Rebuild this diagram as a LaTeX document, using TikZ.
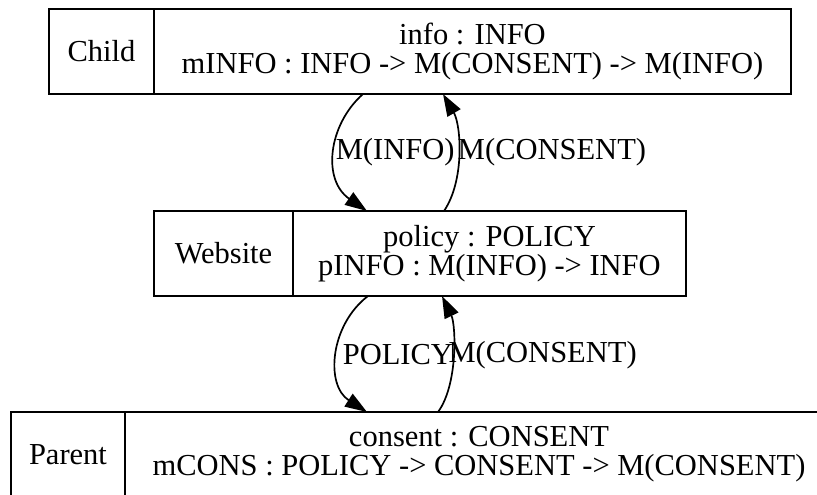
\documentclass[tikz,border=0pt]{standalone}
\usepackage{fontspec}
\setmainfont{Liberation Serif}
\usetikzlibrary{arrows.meta}

\begin{document}
\begin{tikzpicture}[x=1pt,y=1pt,yscale=-1,xscale=1,
    recbox/.style={draw, line width=1.7, inner sep=0, outer sep=0, minimum height=85, align=center, font=\fontsize{30.5}{29}\selectfont},
    flow/.style={line width=1.7, -{Triangle[length=22pt,width=15pt]}},
    flowlabel/.style={anchor=west, inner sep=0, font=\fontsize{30.5}{29}\selectfont}]
                \useasboundingbox (0,0) rectangle (817,495);
                \clip (0,0) rectangle (817,495);
                %Shape: Record [Child]
                \node [recbox, minimum width=105] (childl) at (101.5,51.5) {Child};
                \node [recbox, minimum width=637, anchor=west] (childf) at (childl.east) {info : INFO\\mINFO : INFO -> M(CONSENT) -> M(INFO)};
                %Shape: Record [Website]
                \node [recbox, minimum width=139] (webl) at (223.5,253.5) {Website};
                \node [recbox, minimum width=393, anchor=west] (webf) at (webl.east) {policy : POLICY\\pINFO : M(INFO) -> INFO};
                %Shape: Record [Parent]
                \node [recbox, minimum width=114] (parl) at (68,454.5) {Parent};
                \node [recbox, minimum width=708, anchor=west] (parf) at (parl.east) {consent : CONSENT\\mCONS : POLICY -> CONSENT -> M(CONSENT)};
                %Curve: Child to Website
                \draw [flow] ([xshift=209]childf.south west) .. controls (328,125) and (322,180) .. ([xshift=74]webf.north west) node [flowlabel, pos=0.5] {M(INFO)};
                %Curve: Website to Child
                \draw [flow] ([xshift=151]webf.north west) .. controls (465,180) and (461,125) .. ([xshift=289]childf.south west) node [flowlabel, pos=0.5, xshift=-1] {M(CONSENT)};
                %Curve: Website to Parent
                \draw [flow] ([xshift=75]webf.south west) .. controls (330,325) and (325,385) .. ([xshift=242]parf.north west) node [flowlabel, pos=0.5, xshift=4.5] {POLICY};
                %Curve: Parent to Website
                \draw [flow] ([xshift=313]parf.north west) .. controls (458,385) and (456,325) .. ([xshift=149]webf.south west) node [flowlabel, pos=0.5, xshift=-5] {M(CONSENT)};
        \end{tikzpicture}
\end{document}
